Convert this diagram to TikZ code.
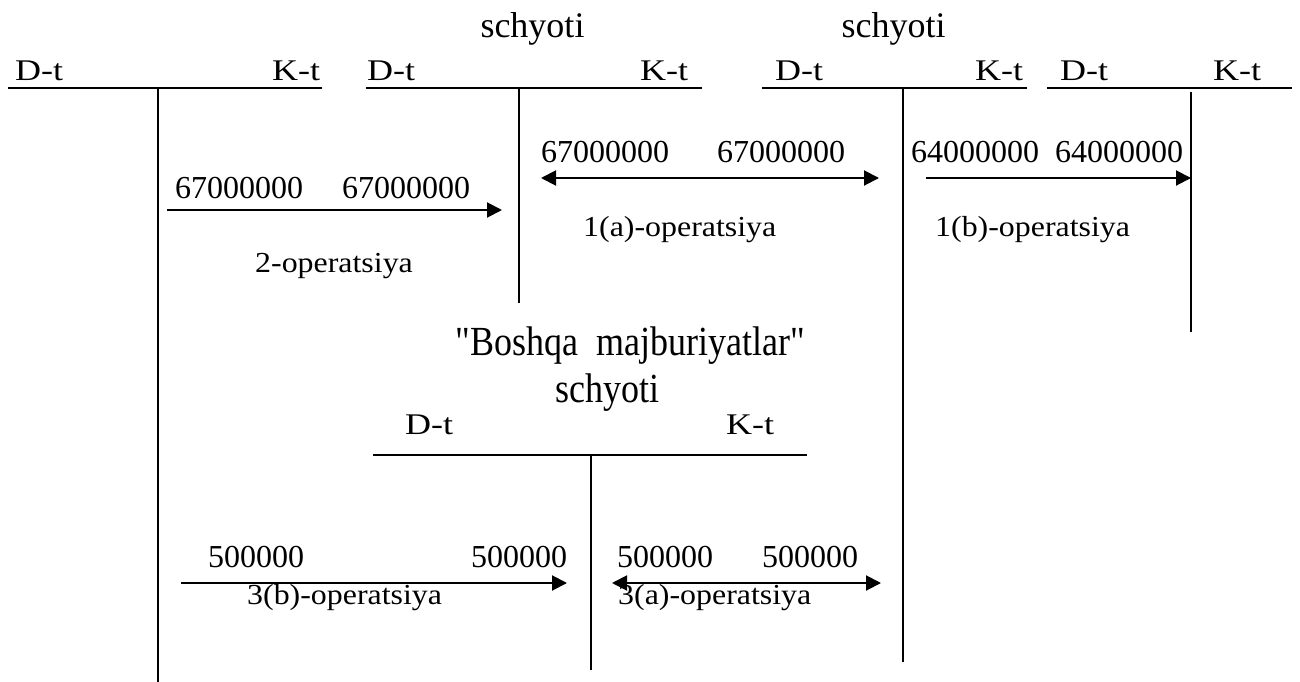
\documentclass[tikz,border=0pt]{standalone}
\usepackage{fontspec}
\setmainfont{Liberation Serif}[Ligatures=TeXOff]
\usepackage{graphicx}
\usetikzlibrary{arrows.meta}
\newcommand\dkt[1]{\scalebox{1.2}[1]{#1}}
\newcommand\opx[1]{\scalebox{1.1}[1]{#1}}
\newcommand\tallx[1]{\scalebox{1}[1.15]{#1}}
\begin{document}
\begin{tikzpicture}[x=1pt,y=-1pt,
  lbl/.style={inner sep=0pt,anchor=base west},
  dk/.style={lbl,font=\fontsize{30}{35}\selectfont},
  num/.style={lbl,font=\fontsize{32}{38}\selectfont},
  op/.style={lbl,font=\fontsize{29}{34}\selectfont},
  ttl/.style={inner sep=0pt,anchor=base,font=\fontsize{36}{42}\selectfont},
  acc/.style={line width=2pt},
  arr/.style={line width=2pt,-{Triangle[length=15pt,width=15pt]}},
  darr/.style={line width=2pt,{Triangle[length=15pt,width=15pt]}-{Triangle[length=15pt,width=15pt]}}]
\useasboundingbox (0,0) rectangle (1300,682);
% ---- account 1
\coordinate (a1l) at (8,88); \coordinate (a1r) at (322,88);
\coordinate (a1t) at (158,88); \coordinate (a1b) at (158,682);
\draw[acc] (a1l) -- (a1r); \draw[acc] (a1t) -- (a1b);
\node[dk] (d1) at (15,81) {\dkt{D-t}};
\node[dk] (k1) at (272,81) {\dkt{K-t}};
% ---- account 2
\node[ttl] (s2) at (532.5,38) {schyoti};
\coordinate (a2l) at (366,88); \coordinate (a2r) at (702,88);
\coordinate (a2t) at (519,88); \coordinate (a2b) at (519,303);
\draw[acc] (a2l) -- (a2r); \draw[acc] (a2t) -- (a2b);
\node[dk] (d2) at (367,81) {\dkt{D-t}};
\node[dk] (k2) at (640,81) {\dkt{K-t}};
% ---- account 3
\node[ttl] (s3) at (893.5,38) {schyoti};
\coordinate (a3l) at (762,88); \coordinate (a3r) at (1027,88);
\coordinate (a3t) at (903,88); \coordinate (a3b) at (903,662);
\draw[acc] (a3l) -- (a3r); \draw[acc] (a3t) -- (a3b);
\node[dk] (d3) at (775,81) {\dkt{D-t}};
\node[dk] (k3) at (975,81) {\dkt{K-t}};
% ---- account 4
\coordinate (a4l) at (1047,88); \coordinate (a4r) at (1292,88);
\coordinate (a4t) at (1191,92); \coordinate (a4b) at (1191,332);
\draw[acc] (a4l) -- (a4r); \draw[acc] (a4t) -- (a4b);
\node[dk] (d4) at (1060,81) {\dkt{D-t}};
\node[dk] (k4) at (1213,81) {\dkt{K-t}};
% ---- lower account
\node[ttl] (bt) at (630,355) {\tallx{"Boshqa~~majburiyatlar"}};
\node[ttl] (bs) at (607.5,402) {\tallx{schyoti}};
\coordinate (a5l) at (373,455); \coordinate (a5r) at (807,455);
\coordinate (a5t) at (591,455); \coordinate (a5b) at (591,670);
\draw[acc] (a5l) -- (a5r); \draw[acc] (a5t) -- (a5b);
\node[dk] (d5) at (405,434) {\dkt{D-t}};
\node[dk] (k5) at (726,434) {\dkt{K-t}};
% ---- operation 2
\node[num] (n2a) at (175,198) {67000000};
\node[num] (n2b) at (342,198) {67000000};
\coordinate (o2s) at (167,210); \coordinate (o2e) at (502,210);
\draw[arr] (o2s) -- (o2e);
\node[op] (o2) at (255,272) {\opx{2-operatsiya}};
% ---- operation 1(a)
\node[num] (n1a) at (541,162) {67000000};
\node[num] (n1b) at (717,162) {67000000};
\coordinate (o1as) at (541,178); \coordinate (o1ae) at (879,178);
\draw[darr] (o1as) -- (o1ae);
\node[op] (o1a) at (583,236) {\opx{1(a)-operatsiya}};
% ---- operation 1(b)
\node[num] (n1c) at (911,162) {64000000};
\node[num] (n1d) at (1055,162) {64000000};
\coordinate (o1bs) at (926,178); \coordinate (o1be) at (1191,178);
\draw[arr] (o1bs) -- (o1be);
\node[op] (o1b) at (935,236) {\opx{1(b)-operatsiya}};
% ---- operation 3(b)
\node[num] (n3a) at (208,567) {500000};
\node[num] (n3b) at (471,567) {500000};
\coordinate (o3bs) at (181,583); \coordinate (o3be) at (567,583);
\draw[arr] (o3bs) -- (o3be);
\node[op] (o3b) at (247,604) {\opx{3(b)-operatsiya}};
% ---- operation 3(a)
\node[num] (n3c) at (617,567) {500000};
\node[num] (n3d) at (762,567) {500000};
\coordinate (o3as) at (612,583); \coordinate (o3ae) at (881,583);
\draw[darr] (o3as) -- (o3ae);
\node[op] (o3a) at (618,604) {\opx{3(a)-operatsiya}};
\end{tikzpicture}
\end{document}
